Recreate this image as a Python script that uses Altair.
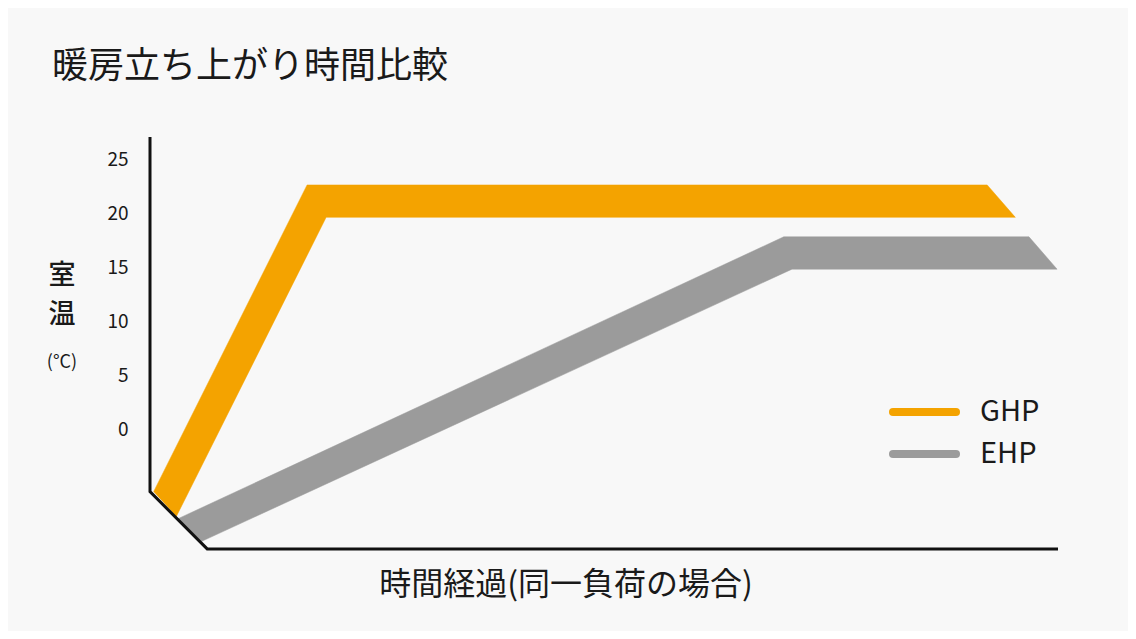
import altair as alt
import pandas as pd

# ---- data ----
series = ["GHP", "EHP"]
colors = ["#F4A300", "#9B9B9B"]
ghp_time = [0.4, 17.3, 92.2, 95.3, 19.4, 2.9]
ghp_temp = [-5.8, 22.6, 22.6, 19.6, 19.6, -8.1]
ehp_time = [3.1, 69.8, 96.8, 99.9, 70.7, 5.7]
ehp_temp = [-8.3, 17.8, 17.8, 14.8, 14.8, -10.4]
frame_time = [0, 0, 6.3, 100]
frame_temp = [27.04, -5.8, -11.1, -11.1]
y_ticks = [0, 5, 10, 15, 20, 25]

title_text = "暖房立ち上がり時間比較"
x_title = "時間経過(同一負荷の場合)"
y_title = ["室", "温"]
y_unit = "(°C)"

W, H = 908, 412
FONT = "Noto Sans CJK JP"
TXT = "#1a1a1a"
xs = alt.Scale(domain=[0, 100], nice=False, zero=False)
ys = alt.Scale(domain=[-11.11, 27.04], nice=False, zero=False)
y_axis = alt.Axis(values=y_ticks, domain=False, ticks=False, tickSize=0, grid=False,
                  labelPadding=22, labelFontSize=19, labelFont=FONT, labelColor=TXT, title=None)


def band(t, v, color):
    df = pd.DataFrame({"time": t, "temp": v, "i": list(range(len(t)))})
    return alt.Chart(df).mark_line(fill=color, stroke=color, strokeWidth=0.5, clip=False).encode(
        x=alt.X("time:Q", scale=xs, axis=None),
        y=alt.Y("temp:Q", scale=ys, axis=y_axis),
        order=alt.Order("i:Q"),
    )


ghp = band(ghp_time, ghp_temp, colors[0])
ehp = band(ehp_time, ehp_temp, colors[1])

frame_df = pd.DataFrame({"time": frame_time, "temp": frame_temp, "i": list(range(len(frame_time)))})
frame = alt.Chart(frame_df).mark_line(color="#111111", strokeWidth=3, clip=False, strokeJoin="miter").encode(
    x=alt.X("time:Q", scale=xs, axis=None),
    y=alt.Y("temp:Q", scale=ys, axis=y_axis),
    order=alt.Order("i:Q"),
)


def label(text, x, y, size, align="left", weight="normal"):
    return alt.Chart(pd.DataFrame({"t": [text]})).mark_text(
        font=FONT, fontSize=size, color=TXT, align=align, baseline="middle", fontWeight=weight
    ).encode(text="t:N", x=alt.value(x), y=alt.value(y))


title = label(title_text, -98, -70, 36)
xt = label(x_title, 416, 448, 32, align="center")
yt = [label(ch, -88, 139 + 39 * k, 27, align="center", weight=500) for k, ch in enumerate(y_title)]
yu = label(y_unit, -88, 226, 18, align="center")

legend_layers = []
for k, (s, c) in enumerate(zip(series, colors)):
    ld = pd.DataFrame({"series": [s]})
    yy = 275 + 42 * k
    legend_layers.append(
        alt.Chart(ld).mark_rule(color=c, strokeWidth=8, strokeCap="round").encode(
            x=alt.value(743), x2=alt.value(806), y=alt.value(yy))
    )
    legend_layers.append(
        alt.Chart(ld).mark_text(font=FONT, fontSize=29, color=TXT, align="left", baseline="middle").encode(
            text="series:N", x=alt.value(830), y=alt.value(yy))
    )

chart = alt.layer(ghp, ehp, frame, title, xt, *yt, yu, *legend_layers).properties(
    width=W, height=H,
    background="#f8f8f8",
    padding={"left": 142, "top": 129, "right": 70, "bottom": 82},
    autosize=alt.AutoSizeParams(type="none"),
).configure_view(stroke=None)

chart.save("out.html", embed_options={"renderer": "svg", "actions": False})
